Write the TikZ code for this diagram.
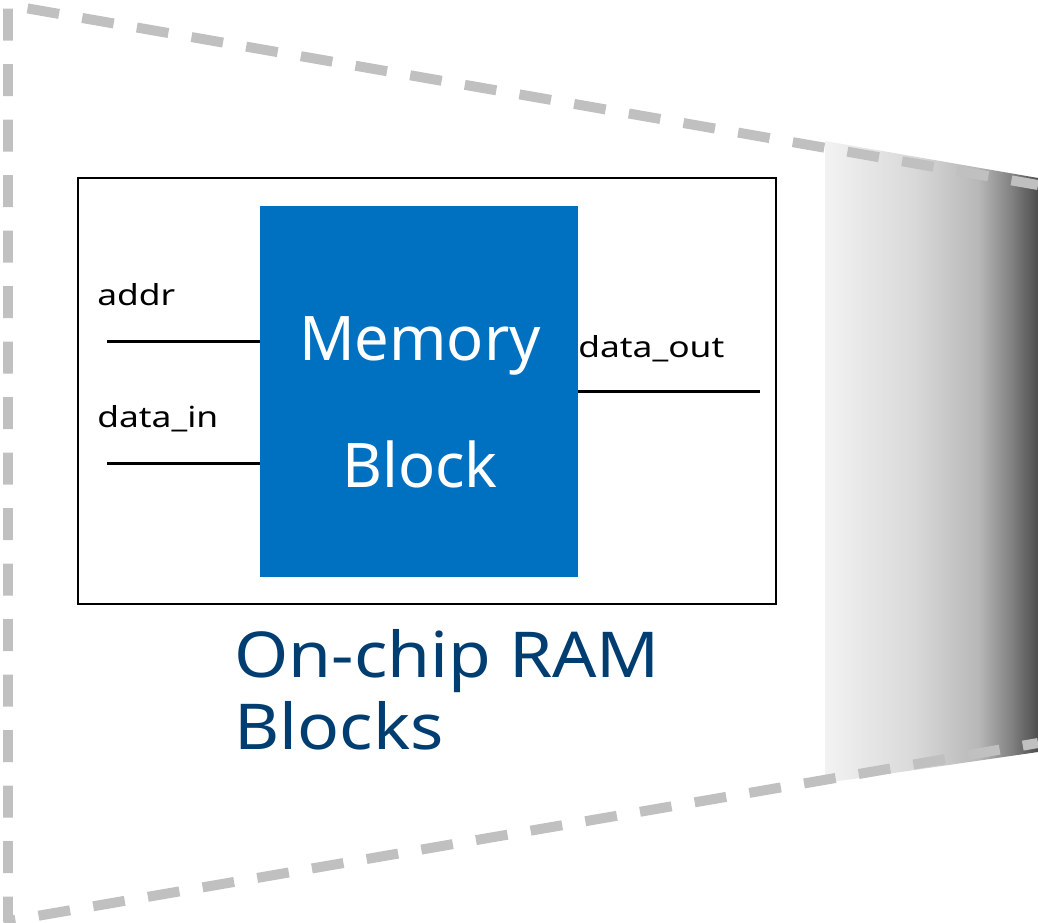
\documentclass[tikz,border=0pt]{standalone}
\usepackage{fontspec}
\setmainfont{Noto Sans}
\newfontfamily\portfont[FakeStretch=1.22]{Noto Sans}
\newfontfamily\ttlfont[FakeStretch=1.1]{Noto Sans}
\definecolor{memblue}{RGB}{0,112,192}
\definecolor{titleblue}{RGB}{0,61,113}
\definecolor{dashgray}{RGB}{192,192,192}
\pgfdeclarehorizontalshading{sideshade}{100bp}{color(0bp)=(black!5); color(25bp)=(black!5); color(46bp)=(black!15); color(61bp)=(black!28); color(69bp)=(black!50); color(75bp)=(black!70); color(100bp)=(black!70)}
\tikzset{
  wire/.style={line width=0.06cm},
  lbl/.style={anchor=base west, inner sep=0pt, font=\portfont\fontsize{16.5}{19}\selectfont},
  memtxt/.style={anchor=base, inner sep=0pt, text=white, font=\fontsize{35}{40}\selectfont},
  ttl/.style={anchor=base west, inner sep=0pt, text=titleblue, font=\ttlfont\fontsize{36}{40}\selectfont}
}

\begin{document}
\begin{tikzpicture}[x=0.02cm,y=-0.02cm]
\useasboundingbox (0,0) rectangle (1038,923);
% shaded side of the zoom cone
\shade[shading=sideshade] (825,141) -- (1038,178) -- (1038,752) -- (825,783) -- cycle;
% dashed zoom outline
\draw[dashgray, line width=0.2cm, dash pattern=on 0.64cm off 0.47cm, dash phase=0.1cm, line join=round] (1038,185) -- (8,5) -- (8,921) -- (1038,743);
% RAM box and memory block
\node[draw, line width=0.04cm, minimum width=13.96cm, minimum height=8.52cm, inner sep=0pt] (ram) at (427,391) {};
\node[fill=memblue, minimum width=6.36cm, minimum height=7.42cm, inner sep=0pt] (mem) at (419,391.5) {};
\node[memtxt] (memA) at (420,360) {Memory};
\node[memtxt] (memB) at (420,487) {Block};
% ports
\coordinate (addrin) at (107,341);
\coordinate (datain) at (107,463);
\coordinate (dataout) at (760,391);
\draw[wire] (addrin) -- (addrin -| mem.west);
\draw[wire] (datain) -- (datain -| mem.west);
\draw[wire] (dataout -| mem.east) -- (dataout);
\node[lbl] (addrlbl) at (97,305) {addr};
\node[lbl] (inlbl) at (97,427) {data\_in};
\node[lbl] (outlbl) at (578,357) {data\_out};
% caption
\node[ttl] (ttlA) at (234,677) {On-chip RAM};
\node[ttl] (ttlB) at (234,749) {Blocks};
\end{tikzpicture}
\end{document}
